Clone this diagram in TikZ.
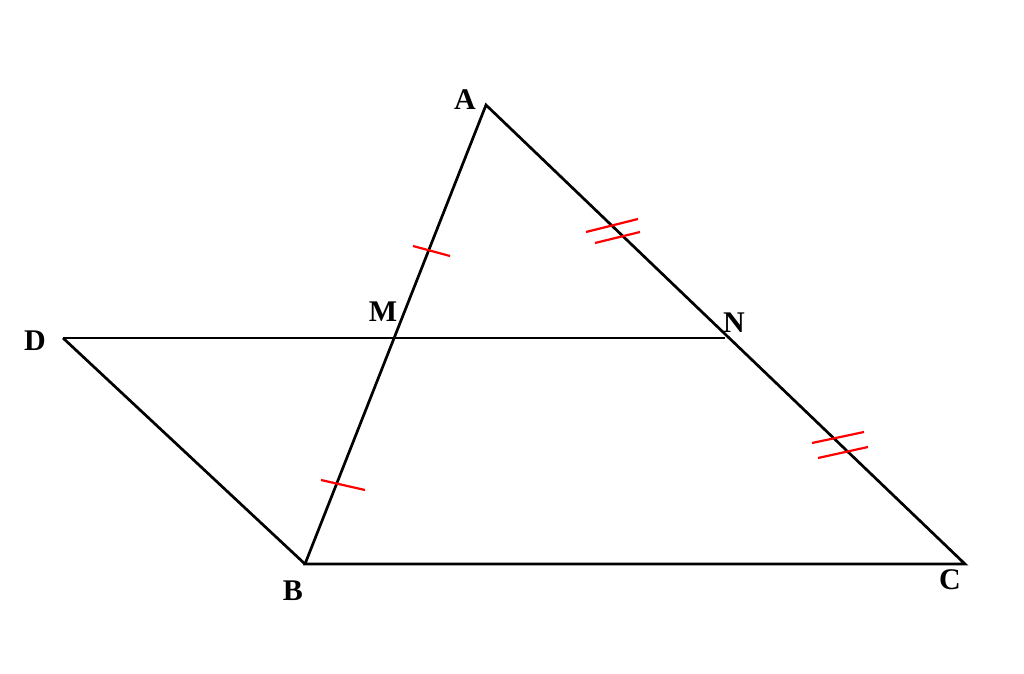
\documentclass[tikz,border=0pt]{standalone}
\usepackage{fontspec}
\setmainfont{Liberation Serif}
\usepackage{tikz}

\begin{document}
\begin{tikzpicture}[x=0.5pt,y=-0.5pt,
    side/.style={line width=1.35pt,line join=miter},
    tick/.style={red,line width=1.1pt},
    pt/.style={font=\fontsize{15}{17}\selectfont\bfseries,inner sep=0pt}]
      \useasboundingbox (0,0) rectangle (1024,674);

      \coordinate (A) at (486,105);
      \coordinate (B) at (305,564);
      \coordinate (C) at (965,564);
      \coordinate (M) at (395,338);
      \coordinate (N) at (725,338);
      \coordinate (D) at (63,338);

      \draw[side] (A) -- (B) -- (C) -- cycle;
      \draw[side] (D) -- (N);
      \draw[side] (D) -- (B);

      \node[pt] (lA) at (465,100) {A};
      \node[pt] (lM) at (383,312) {M};
      \node[pt] (lN) at (734,323) {N};
      \node[pt] (lD) at (35,341) {D};
      \node[pt] (lB) at (293,591) {B};
      \node[pt] (lC) at (950,580) {C};

      % single ticks on AB
      \draw[tick] (413,246) -- (450,256);
      \draw[tick] (321,480) -- (365,490);

      % double ticks on AC
      \draw[tick] (586,232) -- (638,219);
      \draw[tick] (595,243) -- (640,232);
      \draw[tick] (812,443) -- (864,432);
      \draw[tick] (818,458) -- (868,447);
\end{tikzpicture}
\end{document}
